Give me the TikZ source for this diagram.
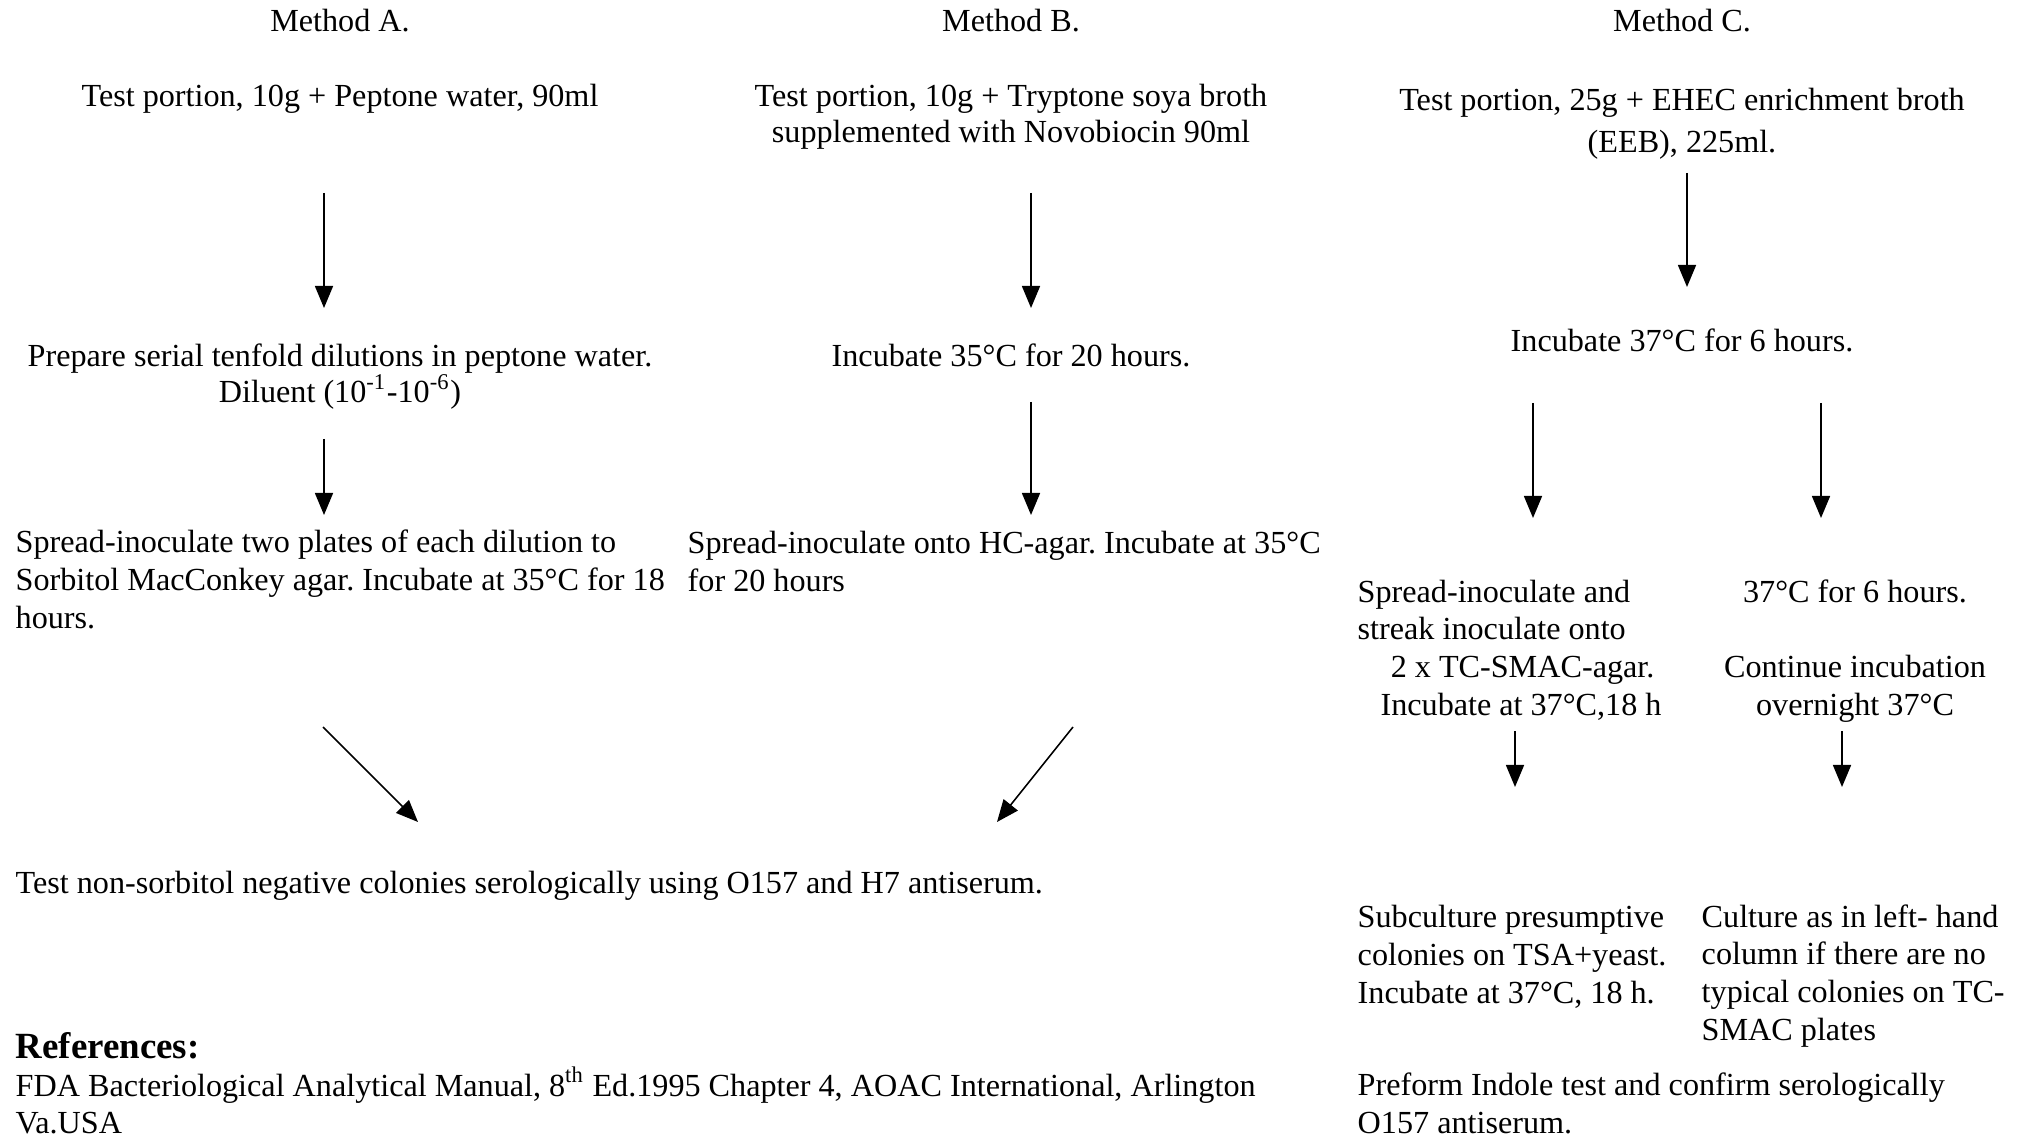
\documentclass[tikz,border=0pt]{standalone}
\usepackage{fontspec}
\setmainfont{Liberation Serif}
\usetikzlibrary{arrows.meta}
\frenchspacing

\tikzset{
  stage/.style={font=\fontsize{9.15}{10.7}\selectfont, inner sep=0pt, anchor=base},
  stageL/.style={stage, anchor=base west, align=left},
  flow/.style={-{Triangle[length=2.2mm,width=1.8mm]}, line width=0.45pt},
}

\begin{document}
\begin{tikzpicture}[x=0.01cm, y=-0.01cm]
  \useasboundingbox (0,0) rectangle (2024,1146);
  % (multi-line nodes sit on the baseline of their last line)

  % Headings
  \node[stage] (methA) at (340,32) {Method A.};
  \node[stage] (methB) at (1011,32) {Method B.};
  \node[stage] (methC) at (1682,32) {Method C.};

  % Method A
  \node[stage] (portA) at (340,107) {Test portion, 10g + Peptone water, 90ml};
  \node[stage, align=center, font=\fontsize{9.15}{10.3}\selectfont] (diluA) at (340,403)
    {Prepare serial tenfold dilutions in peptone water.\\
     Diluent (10\textsuperscript{-1}-10\textsuperscript{-6})};
  \node[stageL] (spreadA) at (15,628)
    {Spread-inoculate two plates of each dilution to\\
     Sorbitol MacConkey agar. Incubate at 35°C for 18\\
     hours.};

  % Method B
  \node[stage, align=center, font=\fontsize{9.15}{10.3}\selectfont] (portB) at (1011,143)
    {Test portion, 10g + Tryptone soya broth\\
     supplemented with Novobiocin 90ml};
  \node[stage] (incB) at (1011,367) {Incubate 35°C for 20 hours.};
  \node[stageL] (spreadB) at (687,591)
    {Spread-inoculate onto HC-agar. Incubate at 35°C\\
     for 20 hours};

  % Common step for A and B
  \node[stageL] (testAB) at (15,893)
    {Test non-sorbitol negative colonies serologically using O157 and H7 antiserum.};

  % Method C
  \node[stage, align=center, font=\fontsize{9.15}{12.2}\selectfont] (portC) at (1682,153)
    {Test portion, 25g + EHEC enrichment broth\\
     (EEB), 225ml.};
  \node[stage] (incC) at (1682,352) {Incubate 37°C for 6 hours.};
  \node[stageL] (streakC) at (1357,715)
    {Spread-inoculate and\\
     streak inoculate onto\\
     \hspace*{9.4pt}2 x TC-SMAC-agar.\\
     \hspace*{6.5pt}Incubate at 37°C,18 h};
  \node[stage, align=center] (holdC) at (1855,715)
    {37°C for 6 hours.\\[10.7pt]
     Continue incubation\\
     overnight 37°C};
  \node[stageL] (subC) at (1357,1003)
    {Subculture presumptive\\
     colonies on TSA+yeast.\\
     Incubate at 37°C, 18 h.};
  \node[stageL] (cultC) at (1701,1040)
    {Culture as in left- hand\\
     column if there are no\\
     typical colonies on TC-\\
     SMAC plates};
  \node[stageL] (indoleC) at (1357,1133)
    {Preform Indole test and confirm serologically\\
     O157 antiserum.};

  % References
  \node[stageL, font=\fontsize{10.5}{12}\selectfont\bfseries] (refHead) at (15,1058) {References:};
  \node[stageL, font=\fontsize{9.15}{10.5}\selectfont] (refText) at (15,1133)
    {FDA Bacteriological Analytical Manual, 8\textsuperscript{th} Ed.1995 Chapter 4, AOAC International, Arlington\\
     Va.USA};

  % arrow ends
  \coordinate (a1s) at (324,193);  \coordinate (a1e) at (324,308);
  \coordinate (a2s) at (324,439);  \coordinate (a2e) at (324,515);
  \coordinate (a3s) at (323,727);  \coordinate (a3e) at (418,822);
  \coordinate (b1s) at (1031,193); \coordinate (b1e) at (1031,308);
  \coordinate (b2s) at (1031,402); \coordinate (b2e) at (1031,515);
  \coordinate (b3s) at (1073,727); \coordinate (b3e) at (997,822);
  \coordinate (c1s) at (1687,173); \coordinate (c1e) at (1687,287);
  \coordinate (c2s) at (1533,403); \coordinate (c2e) at (1533,518);
  \coordinate (c3s) at (1821,403); \coordinate (c3e) at (1821,518);
  \coordinate (c4s) at (1515,731); \coordinate (c4e) at (1515,787);
  \coordinate (c5s) at (1842,731); \coordinate (c5e) at (1842,787);

  % Arrows
  \draw[flow] (a1s) -- (a1e);
  \draw[flow] (a2s) -- (a2e);
  \draw[flow] (a3s) -- (a3e);
  \draw[flow] (b1s) -- (b1e);
  \draw[flow] (b2s) -- (b2e);
  \draw[flow] (b3s) -- (b3e);
  \draw[flow] (c1s) -- (c1e);
  \draw[flow] (c2s) -- (c2e);
  \draw[flow] (c3s) -- (c3e);
  \draw[flow] (c4s) -- (c4e);
  \draw[flow] (c5s) -- (c5e);

\end{tikzpicture}
\end{document}
